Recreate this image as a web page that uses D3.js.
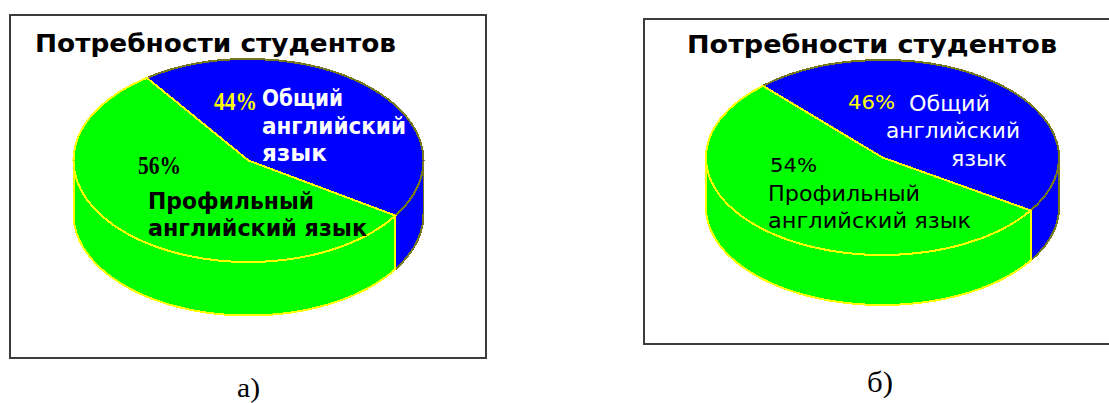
<!DOCTYPE html>
<html>
<head>
<meta charset="utf-8">
<script src="https://cdn.jsdelivr.net/npm/d3@7/dist/d3.min.js"></script>
<style>
html,body{margin:0;padding:0;background:#fff;overflow:hidden}
svg{display:block}
</style>
</head>
<body>
<svg id="chart" width="1109" height="403"></svg>
<script>
// Student needs: general vs. professional English, two surveys
const categories = ["Общий английский язык", "Профильный английский язык"];
const sharesA = [44, 56];
const sharesB = [46, 54];
const chartTitle = "Потребности студентов";
const captions = ["а)", "б)"];

const BLUE = "#0000ff", GREEN = "#00ff00", YELLOW = "#ffff00", OLIVE = "#77771f";
const SERIF = "'Liberation Serif', serif", SANS = "'DejaVu Sans', sans-serif";
const toRad = d => d * Math.PI / 180;

const panels = [
  {
    shares: sharesA, caption: captions[0],
    frame: {x: 10, y: 15, x2: 486, y2: 358},
    pie: {cx: 248.5, cy: 160.5, rx: 175, ry: 101.5, depth: 53.5, start: -35.5},
    captionAt: {x: 237, y: 397, w: 23, size: 27},
    titleAt: {x: 35, y: 52, w: 361, size: 25},
    labels: [
      {text: d => d[0] + "%", x: 214, y: 110, w: 43, size: 26, fill: YELLOW, family: SERIF, weight: 700},
      {text: () => "Общий", x: 262, y: 106, w: 81, size: 23, fill: "#fff", family: SANS, weight: 700},
      {text: () => "английский", x: 262, y: 134, w: 144, size: 23, fill: "#fff", family: SANS, weight: 700},
      {text: () => "язык", x: 262, y: 161, w: 65, size: 23, fill: "#fff", family: SANS, weight: 700},
      {text: d => d[1] + "%", x: 138, y: 174, w: 43, size: 26, fill: "#000", family: SERIF, weight: 700},
      {text: () => "Профильный", x: 148, y: 209, w: 166, size: 23, fill: "#000", family: SANS, weight: 700},
      {text: () => "английский язык", x: 148, y: 236, w: 219, size: 23, fill: "#000", family: SANS, weight: 700}
    ]
  },
  {
    shares: sharesB, caption: captions[1],
    frame: {x: 644, y: 19, x2: 1112, y2: 344},
    pie: {cx: 882.5, cy: 157.5, rx: 176.5, ry: 97.5, depth: 50, start: -42.7},
    captionAt: {x: 867, y: 392, w: 26, size: 30},
    titleAt: {x: 687, y: 53, w: 370, size: 25},
    labels: [
      {text: d => d[0] + "%", x: 848, y: 109, w: 47, size: 20, fill: YELLOW, family: SANS, weight: 400},
      {text: () => "Общий", x: 909, y: 111, w: 81, size: 22, fill: "#fff", family: SANS, weight: 400},
      {text: () => "английский", x: 886, y: 138, w: 134, size: 22, fill: "#fff", family: SANS, weight: 400},
      {text: () => "язык", x: 951, y: 166, w: 56, size: 22, fill: "#fff", family: SANS, weight: 400},
      {text: d => d[1] + "%", x: 770, y: 172, w: 47, size: 20, fill: "#000", family: SANS, weight: 400},
      {text: () => "Профильный", x: 768, y: 201, w: 152, size: 22, fill: "#000", family: SANS, weight: 400},
      {text: () => "английский язык", x: 768, y: 228, w: 203, size: 22, fill: "#000", family: SANS, weight: 400}
    ]
  }
];

const svg = d3.select("#chart");

function putText(g, str, o) {
  g.append("text")
    .attr("x", o.x).attr("y", o.y)
    .attr("textLength", o.w).attr("lengthAdjust", "spacingAndGlyphs")
    .attr("font-family", o.family).attr("font-size", o.size)
    .attr("font-weight", o.weight).attr("fill", o.fill)
    .text(str);
}

panels.forEach(panel => {
  const g = svg.append("g");
  const {frame: f, pie: p} = panel;

  g.append("rect")
    .attr("x", f.x).attr("y", f.y)
    .attr("width", f.x2 - f.x).attr("height", f.y2 - f.y)
    .attr("fill", "#fff").attr("stroke", "#3c3c3c").attr("stroke-width", 2);

  // Slices are computed in true angles, then squashed into the tilted ellipse
  const start = toRad(p.start);
  const slices = d3.pie().sort(null)
    .startAngle(start).endAngle(start + 2 * Math.PI)(panel.shares);
  const colours = d3.scaleOrdinal().domain(categories).range([BLUE, GREEN]);
  const edges = d3.scaleOrdinal().domain(categories).range([OLIVE, YELLOW]);

  // Side wall: only the part of each slice facing the viewer
  const rim = a => [p.cx + p.rx * Math.sin(a), p.cy - p.ry * Math.cos(a)];
  const wallLine = d3.line();
  slices.forEach((s, i) => {
    const a0 = Math.max(s.startAngle, Math.PI / 2);
    const a1 = Math.min(s.endAngle, 3 * Math.PI / 2);
    if (a1 <= a0) return;
    const angles = d3.range(a0, a1, 0.01).concat([a1]);
    const top = angles.map(rim);
    const bottom = angles.map(rim).map(([x, y]) => [x, y + p.depth]).reverse();
    g.append("path")
      .attr("d", wallLine(top.concat(bottom)) + "Z")
      .attr("fill", colours(categories[i]))
      .attr("stroke", edges(categories[i]))
      .attr("stroke-width", 2)
      .attr("shape-rendering", "crispEdges");
  });
  // The boundary between the two wall colours is drawn in yellow
  const seam = slices[0].endAngle;
  const [sx, sy] = rim(seam);
  g.append("line")
    .attr("x1", sx).attr("y1", sy).attr("x2", sx).attr("y2", sy + p.depth)
    .attr("stroke", YELLOW).attr("stroke-width", 2)
    .attr("shape-rendering", "crispEdges");

  const arc = d3.arc().innerRadius(0).outerRadius(p.rx);
  const top = g.append("g")
    .attr("transform", `translate(${p.cx},${p.cy}) scale(1,${p.ry / p.rx})`);
  // Blue first so the yellow outline of the green slice stays on top
  top.selectAll("path").data(slices).join("path")
    .attr("d", arc)
    .attr("fill", (d, i) => colours(categories[i]))
    .attr("stroke", (d, i) => edges(categories[i]))
    .attr("stroke-width", 2)
    .attr("vector-effect", "non-scaling-stroke")
    .attr("shape-rendering", "crispEdges");

  putText(g, chartTitle, {...panel.titleAt, family: SANS, weight: 700, fill: "#000"});
  panel.labels.forEach(l => putText(g, l.text(panel.shares), l));
  putText(g, panel.caption, {...panel.captionAt, family: SERIF, weight: 400, fill: "#000"});
});
</script>
</body>
</html>
